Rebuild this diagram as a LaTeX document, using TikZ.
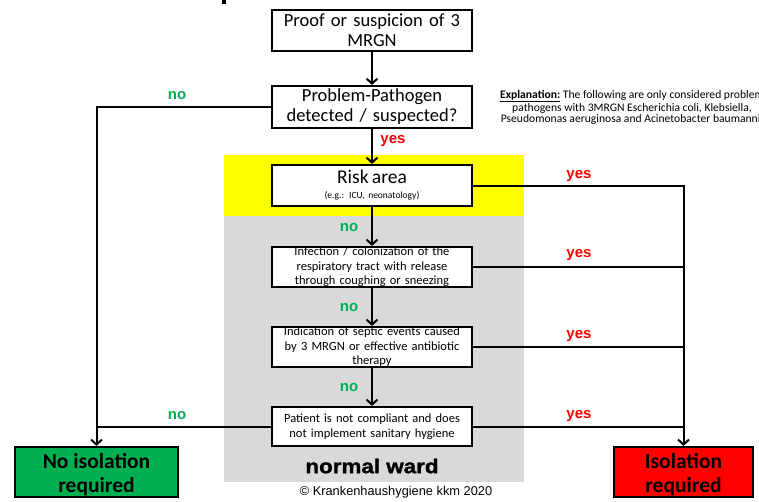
\documentclass[tikz,border=0pt]{standalone}
\usepackage{fontspec}
\setmainfont{Carlito}
\newfontfamily\arial{Liberation Sans}
\newfontfamily\wardfont[FakeStretch=1.12,FakeBold=1.4]{Liberation Sans Bold}
\usetikzlibrary{arrows.meta}
\definecolor{okgreen}{HTML}{00B050}
\definecolor{okred}{HTML}{FF0000}
\definecolor{wardgray}{HTML}{D9D9D9}
\definecolor{riskyellow}{HTML}{FFFF00}
\begin{document}
\begin{tikzpicture}[x=1pt,y=-1pt,
  box/.style={draw=black,line width=2.2pt,fill=white,align=center,
    inner xsep=4pt,inner ysep=0pt,text width=192pt},
  bigtxt/.style={font=\fontsize{18.5}{20}\selectfont},
  smalltxt/.style={font=\fontsize{12.5}{14.5}\selectfont},
  result/.style={draw=black,line width=2.2pt,inner sep=0pt,minimum height=50pt},
  resulttxt/.style={align=center,inner sep=0pt,yshift=-3pt,
    font=\bfseries\fontsize{21.5}{24}\selectfont},
  conn/.style={line width=2pt,draw=black},
  arr/.style={conn,-{Straight Barb[length=5pt,width=11pt]}},
  yeslbl/.style={text=okred,font=\arial\bfseries\fontsize{15}{15}\selectfont,inner sep=0pt},
  nolbl/.style={text=okgreen,font=\arial\bfseries\fontsize{15}{15}\selectfont,inner sep=0pt}]
\useasboundingbox (0,0) rectangle (759,501);
\clip (0,0) rectangle (759,501);
\fill[white] (0,0) rectangle (759,501);
% zones
\fill[riskyellow] (224,155) rectangle (524,216);
\fill[wardgray] (224,216) rectangle (524,482);
\fill[black] (222,0) rectangle (226,4);
% nodes
\node[box,bigtxt,minimum height=41pt] (proof) at (372,30.5) {Proof or suspicion of 3\\MRGN};
\node[box,bigtxt,minimum height=42pt] (path) at (372,107) {Problem-Pathogen\\detected / suspected?};
\node[box,minimum height=41pt] (risk) at (372,185.5) {{\fontsize{19.5}{19}\selectfont Risk area}\\[3pt]{\fontsize{9.5}{10}\selectfont (e.g.: ICU, neonatology)}};
\node[box,smalltxt,minimum height=40pt] (resp) at (372,267) {Infection / colonization of the\\respiratory tract with release\\through coughing or sneezing};
\node[box,smalltxt,minimum height=40pt] (sept) at (372,347) {Indication of septic events caused\\by 3 MRGN or effective antibiotic\\therapy};
\node[box,smalltxt,minimum height=39pt] (compl) at (372,426.5) {Patient is not compliant and does\\not implement sanitary hygiene};
\node[result,fill=okgreen,minimum width=163pt,
  label={[resulttxt]center:No isolation\\required}] (noiso) at (96.5,472) {};
\node[result,fill=okred,minimum width=139pt,
  label={[resulttxt]center:Isolation\\required}] (iso) at (683.5,472) {};
\node[font=\wardfont\fontsize{20}{20}\selectfont,inner sep=0pt] (ward) at (372,466) {normal ward};
\node[font=\arial\fontsize{12.8}{13}\selectfont,inner sep=0pt] (copy) at (396,492) {© Krankenhaushygiene kkm 2020};
\node[align=center,font=\fontsize{11.6}{11}\selectfont,inner sep=0pt] (expl) at (632,107) {\textbf{\underline{Explanation:}} The following are only considered problem\\pathogens with 3MRGN Escherichia coli, Klebsiella,\\Pseudomonas aeruginosa and Acinetobacter baumannii};
% labels
\node[nolbl] (l1) at (177,96) {no};
\node[yeslbl] (l2) at (393,141) {yes};
\node[yeslbl] (l3) at (579,176) {yes};
\node[nolbl] (l4) at (349,228) {no};
\node[yeslbl] (l5) at (579,255) {yes};
\node[nolbl] (l6) at (349,308) {no};
\node[yeslbl] (l7) at (579,336) {yes};
\node[nolbl] (l8) at (349,388) {no};
\node[nolbl] (l9) at (177,416) {no};
\node[yeslbl] (l10) at (579,416) {yes};
% connectors
\draw[arr] (proof.south) -- (path.north);
\draw[arr] (path.south) -- (risk.north);
\draw[arr] (risk.south) -- (resp.north);
\draw[arr] (resp.south) -- (sept.north);
\draw[arr] (sept.south) -- (compl.north);
\draw[arr] (path.west) -| (noiso.north);
\draw[conn] (compl.west) -- (compl.west -| noiso.north);
\draw[arr] (risk.east) -| (iso.north);
\draw[conn] (resp.east) -- (resp.east -| iso.north);
\draw[conn] (sept.east) -- (sept.east -| iso.north);
\draw[conn] (compl.east) -- (compl.east -| iso.north);
\end{tikzpicture}
\end{document}
